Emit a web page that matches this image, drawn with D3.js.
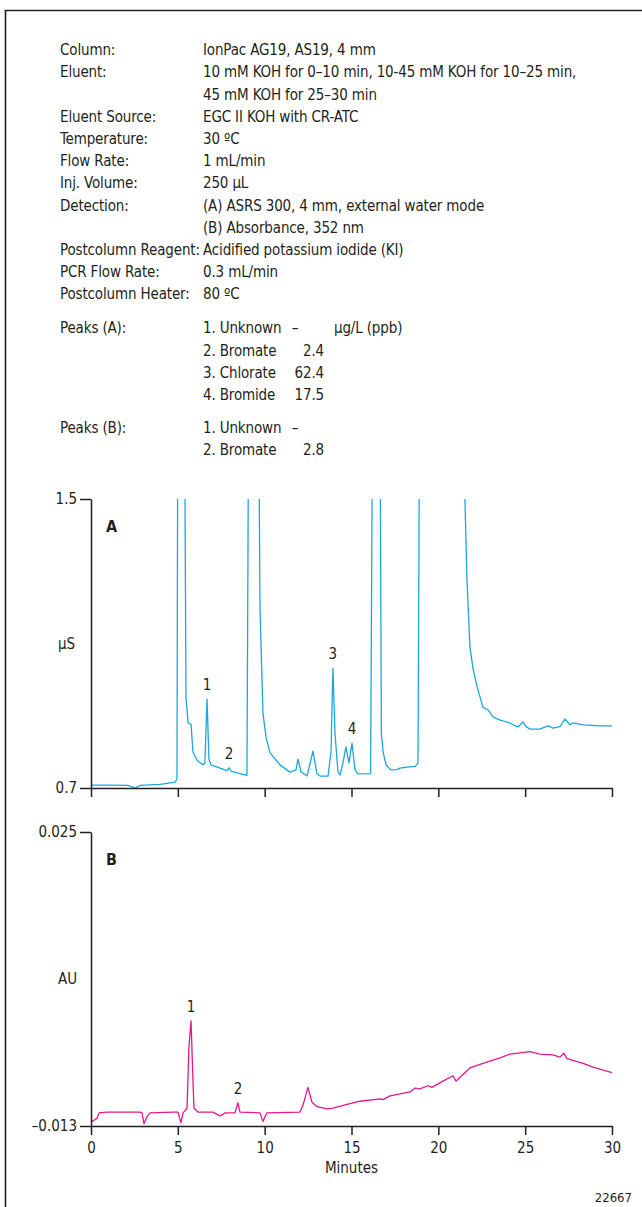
<!DOCTYPE html>
<html>
<head>
<meta charset="utf-8">
<script src="https://cdn.jsdelivr.net/npm/d3@7"></script>
<style>
  html, body { margin: 0; padding: 0; background: #fff; }
  svg { display: block; }
  text { font-family: "DejaVu Sans Condensed", "Liberation Sans Narrow", sans-serif; fill: #231f20; }
</style>
</head>
<body>
<svg id="chart" width="642" height="1207"></svg>
<script>
// ---------------- data ----------------
const headerLabels = ["Column:", "Eluent:", "", "Eluent Source:", "Temperature:", "Flow Rate:", "Inj. Volume:", "Detection:", "", "Postcolumn Reagent:", "PCR Flow Rate:", "Postcolumn Heater:"];
const headerValues = ["IonPac AG19, AS19, 4 mm",
  "10 mM KOH for 0–10 min, 10-45 mM KOH for 10–25 min,",
  "45 mM KOH for 25–30 min",
  "EGC II KOH with CR-ATC",
  "30 ºC",
  "1 mL/min",
  "250 µL",
  "(A) ASRS 300, 4 mm, external water mode",
  "(B) Absorbance, 352 nm",
  "Acidified potassium iodide (KI)",
  "0.3 mL/min",
  "80 ºC"];
const peaksAHeader = "Peaks (A):";
const peaksANames = ["1. Unknown", "2. Bromate", "3. Chlorate", "4. Bromide"];
const peaksAValues = ["–", "2.4", "62.4", "17.5"];
const peaksUnit = "µg/L (ppb)";
const peaksBHeader = "Peaks (B):";
const peaksBNames = ["1. Unknown", "2. Bromate"];
const peaksBValues = ["–", "2.8"];

const xTicks = [0, 5, 10, 15, 20, 25, 30];
const xDomain = [0, 30];
const yDomainA = [0.7, 1.5];
const yTicksA = [0.7, 1.5];
const yDomainB = [-0.013, 0.025];
const yTicksB = [-0.013, 0.025];

// chromatogram A (time min, µS); values above 1.5 run off scale
const traceATime = [0, 1.09, 2.13, 2.53, 2.82, 3.97, 4.84, 4.95, 5.01, 5.36, 5.47, 5.59, 5.76, 5.87, 6.10, 6.45, 6.56, 6.68, 6.79, 6.91, 7.43, 7.83, 7.95, 8.06, 8.58, 8.98, 9.10, 9.62, 9.73, 9.90, 10.08, 10.31, 10.88, 11.46, 11.80, 11.92, 12.09, 12.44, 12.78, 13.01, 13.19, 13.65, 13.82, 13.93, 14.05, 14.22, 14.34, 14.51, 14.68, 14.85, 15.03, 15.20, 15.37, 16.1, 16.24, 16.62, 16.72, 16.83, 16.99, 17.27, 17.62, 17.79, 18.20, 18.66, 18.83, 18.94, 21.42, 21.53, 21.65, 21.82, 22.0, 22.23, 22.57, 22.86, 23.15, 23.55, 24.13, 24.30, 24.59, 24.87, 25.05, 25.28, 25.85, 26.31, 26.60, 27.0, 27.29, 27.58, 27.75, 28.33, 29.31, 30.0];
const traceAValue = [0.708, 0.708, 0.707, 0.700, 0.707, 0.710, 0.716, 0.725, 2.0, 2.0, 0.95, 0.88, 0.876, 0.80, 0.777, 0.764, 0.77, 0.946, 0.78, 0.764, 0.755, 0.748, 0.756, 0.747, 0.740, 0.735, 2.0, 2.0, 1.2, 0.908, 0.84, 0.797, 0.764, 0.744, 0.75, 0.780, 0.745, 0.733, 0.802, 0.74, 0.733, 0.733, 0.80, 1.032, 0.85, 0.745, 0.736, 0.77, 0.814, 0.769, 0.824, 0.75, 0.739, 0.74, 2.0, 2.0, 0.85, 0.797, 0.764, 0.75, 0.751, 0.755, 0.758, 0.760, 0.769, 2.0, 2.0, 1.5, 1.276, 1.09, 1.03, 0.98, 0.924, 0.916, 0.897, 0.888, 0.880, 0.875, 0.869, 0.883, 0.870, 0.863, 0.863, 0.872, 0.866, 0.870, 0.891, 0.875, 0.880, 0.875, 0.872, 0.872];

// chromatogram B (time min, AU)
const traceBTime = [0, 0.35, 0.46, 0.92, 2.82, 2.94, 3.05, 3.22, 3.40, 4.72, 5.01, 5.18, 5.30, 5.53, 5.64, 5.76, 5.87, 5.93, 6.16, 7.02, 7.43, 7.72, 8.29, 8.46, 8.58, 9.73, 9.90, 10.13, 12.03, 12.21, 12.49, 12.72, 13.01, 13.59, 13.93, 14.74, 15.49, 16.64, 16.81, 17.22, 18.37, 18.66, 18.94, 19.40, 19.63, 20.27, 20.84, 21.02, 21.25, 21.82, 22.57, 23.55, 24.13, 25.28, 25.85, 26.60, 27.00, 27.23, 27.41, 28.33, 28.90, 30.0];
const traceBValue = [-0.0125, -0.0120, -0.0113, -0.0112, -0.0112, -0.0113, -0.0127, -0.0118, -0.0113, -0.0112, -0.0112, -0.0126, -0.0113, -0.0107, -0.0028, 0.0006, -0.0071, -0.0107, -0.0112, -0.0112, -0.0117, -0.0113, -0.0113, -0.0100, -0.0112, -0.0113, -0.0124, -0.0113, -0.0112, -0.0103, -0.0080, -0.0099, -0.0105, -0.0108, -0.0107, -0.0102, -0.0098, -0.0095, -0.0096, -0.0091, -0.0086, -0.0081, -0.0082, -0.0078, -0.0080, -0.0072, -0.0065, -0.0072, -0.0067, -0.0055, -0.0049, -0.0042, -0.0037, -0.0034, -0.0037, -0.0038, -0.0041, -0.0036, -0.0043, -0.0049, -0.0054, -0.0061];

const peakLabelsA = ["1", "2", "3", "4"];
const peakTimesA = [6.68, 7.95, 13.93, 15.03];
const peakValuesA = [0.946, 0.756, 1.032, 0.824];
const peakLabelsB = ["1", "2"];
const peakTimesB = [5.76, 8.46];
const peakValuesB = [0.0006, -0.0100];

// ---------------- layout ----------------
const svg = d3.select("#chart");
const ink = "#231f20";
const colA = "#1aa7e0";
const colB = "#e8168c";

// frame (left and top rules)
svg.append("line").attr("x1", 5.5).attr("x2", 5.5).attr("y1", 10).attr("y2", 1207).attr("stroke", ink).attr("stroke-width", 1.6);
svg.append("line").attr("x1", 4.7).attr("x2", 642).attr("y1", 10.5).attr("y2", 10.5).attr("stroke", ink).attr("stroke-width", 1.4);

// header
const labelX = 60, valueX = 203, rowH = 22.2, row0 = 50;
const fs = 15;
const hdr = svg.append("g").attr("font-size", fs).attr("letter-spacing", "-0.15px");
function addRowText(x, y, t, anchor) {
  hdr.append("text").attr("x", x).attr("y", y).attr("dy", "0.35em").attr("text-anchor", anchor || "start").text(t);
}
headerLabels.forEach((t, i) => { if (t) addRowText(labelX, row0 + i * rowH, t); });
headerValues.forEach((t, i) => addRowText(valueX, row0 + i * rowH, t));

function peakBlock(y0, head, names, vals, unit) {
  addRowText(labelX, y0, head);
  names.forEach((t, i) => {
    const y = y0 + i * rowH;
    addRowText(valueX, y, t);
    if (vals[i] === "–") addRowText(valueX + 92, y, vals[i], "middle");
    else addRowText(valueX + 121, y, vals[i], "end");
  });
  if (unit) addRowText(valueX + 131, y0, unit);
}
const peaksA0 = row0 + 11 * rowH + 34;
peakBlock(peaksA0, peaksAHeader, peaksANames, peaksAValues, peaksUnit);
const peaksB0 = peaksA0 + 3 * rowH + 33;
peakBlock(peaksB0, peaksBHeader, peaksBNames, peaksBValues, null);

// scales
const x = d3.scaleLinear().domain(xDomain).range([91, 612]);
const yA = d3.scaleLinear().domain(yDomainA).range([788, 499]);
const yB = d3.scaleLinear().domain(yDomainB).range([1126, 832]);

function panel(y, yTicks, yFmt, times, values, color, clipId, unit, letter, labels, lt, lv, showXLabels) {
  const g = svg.append("g");
  const [y0, y1] = y.range();
  g.append("clipPath").attr("id", clipId).append("rect")
    .attr("x", 80).attr("y", y1).attr("width", 560).attr("height", y0 - y1 + 6);
  const line = d3.line().x((d, i) => x(times[i])).y(d => y(d));
  g.append("path").datum(values).attr("d", line).attr("fill", "none")
    .attr("stroke", color).attr("stroke-width", 1.3).attr("stroke-linejoin", "round")
    .attr("clip-path", `url(#${clipId})`);

  const ya = g.append("g").attr("transform", "translate(91,0)")
    .call(d3.axisLeft(y).tickValues(yTicks).tickSize(11).tickSizeOuter(0).tickPadding(3).tickFormat(yFmt));
  const xa = g.append("g").attr("transform", `translate(0,${y0})`)
    .call(d3.axisBottom(x).tickValues(xTicks).tickSize(9).tickSizeOuter(0).tickPadding(7)
      .tickFormat(showXLabels ? d3.format("d") : () => ""));
  [ya, xa].forEach(a => {
    a.select(".domain").attr("stroke", ink).attr("stroke-width", 1.5);
    a.selectAll(".tick line").attr("stroke", ink).attr("stroke-width", 1.5);
    a.selectAll(".tick text").attr("fill", ink).attr("font-size", fs)
      .attr("font-family", "\"DejaVu Sans Condensed\", sans-serif");
  });

  g.append("text").attr("x", 58).attr("y", (y0 + y1) / 2).attr("dy", "0.35em").attr("font-size", fs).text(unit);
  g.append("text").attr("x", 106).attr("y", y1 + 27).attr("dy", "0.35em").attr("font-size", 16)
    .attr("font-weight", "bold").text(letter);

  labels.forEach((t, i) => {
    g.append("text").attr("x", x(lt[i])).attr("y", y(lv[i]) - 14).attr("dy", "0.35em")
      .attr("text-anchor", "middle").attr("font-size", fs).text(t);
  });
}

panel(yA, yTicksA, d3.format(".1f"), traceATime, traceAValue, colA, "clipA", "µS", "A",
  peakLabelsA, peakTimesA, peakValuesA, false);
panel(yB, yTicksB, d => (d < 0 ? "–" : "") + Math.abs(d).toFixed(3), traceBTime, traceBValue, colB, "clipB", "AU", "B",
  peakLabelsB, peakTimesB, peakValuesB, true);

svg.append("text").attr("x", x(15)).attr("y", 1168).attr("dy", "0.35em").attr("text-anchor", "middle")
  .attr("font-size", fs).text("Minutes");
svg.append("text").attr("x", 632).attr("y", 1197).attr("dy", "0.35em").attr("text-anchor", "end")
  .attr("font-size", 13).text("22667");
</script>
</body>
</html>
